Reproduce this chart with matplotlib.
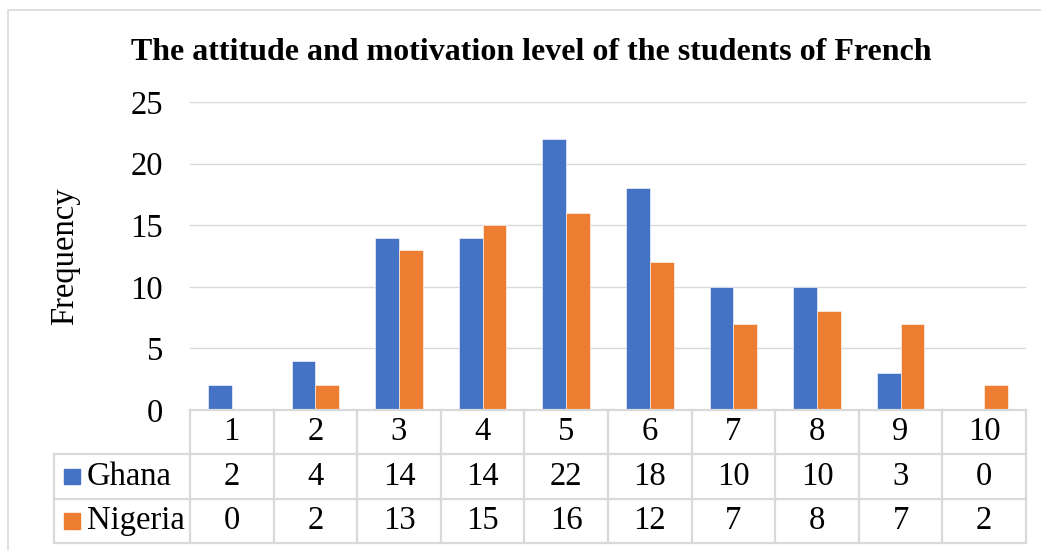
import matplotlib
matplotlib.use("Agg")
import matplotlib.pyplot as plt
from matplotlib.patches import Rectangle
import numpy as np

levels = ["1", "2", "3", "4", "5", "6", "7", "8", "9", "10"]
ghana = [2, 4, 14, 14, 22, 18, 10, 10, 3, 0]
nigeria = [0, 2, 13, 15, 16, 12, 7, 8, 7, 2]
series = ["Ghana", "Nigeria"]
colors = ["#4472C4", "#ED7D31"]
title = "The attitude and motivation level of the students of French"

plt.rcParams["font.family"] = ["Liberation Serif", "DejaVu Serif"]
grid_c = "#d9d9d9"
fs = 23.5

W, H = 1041, 550
fig = plt.figure(figsize=(W / 100, H / 100), dpi=100)

def fx(px):
    return px / W

def fy(py):
    return 1 - py / H

# chart area border
fig.add_artist(Rectangle((fx(8), -0.1), 1.2, fy(10) + 0.1, transform=fig.transFigure,
                         fill=False, edgecolor=grid_c, lw=1.2))

# bar chart
ax = fig.add_axes([fx(190), fy(410), fx(1026) - fx(190), fy(102) - fy(410)])
x = np.arange(len(levels))
bw = 1 / 3.5
ax.bar(x - bw / 2, ghana, bw, color=colors[0], edgecolor="white", lw=0.4, zorder=3)
ax.bar(x + bw / 2, nigeria, bw, color=colors[1], edgecolor="white", lw=0.4, zorder=3)
ax.set_xlim(-0.5, len(levels) - 0.5)
ax.set_ylim(0, 25)
ax.set_yticks(range(0, 26, 5))
ax.yaxis.grid(True, color=grid_c, lw=1.0, zorder=0)
ax.set_xticks([])
ax.tick_params(axis="y", length=0, pad=19.5, labelsize=fs)
for s in ax.spines.values():
    s.set_visible(False)

fig.text(fx(65), fy(256), "Frequency", rotation=90, ha="center", va="center", fontsize=fs)
fig.text(fx(531), fy(60), title, ha="center", va="baseline", fontsize=23, fontweight="bold")

# data table below the bars
xl = -0.5 - (190 - 54) / 83.6
tax = fig.add_axes([fx(54), fy(543), fx(1026) - fx(54), fy(410) - fy(543)])
tax.set_xlim(xl, len(levels) - 0.5)
tax.set_ylim(0, 3)
tax.axis("off")
lk = dict(color=grid_c, lw=1.6, clip_on=False, solid_capstyle="projecting")
tax.plot([-0.5, len(levels) - 0.5], [3, 3], **lk)
for yy in [0, 1, 2]:
    tax.plot([xl, len(levels) - 0.5], [yy, yy], **lk)
for k in range(len(levels) + 1):
    tax.plot([k - 0.5, k - 0.5], [0, 3], **lk)
tax.plot([xl, xl], [0, 2], **lk)

for i, lab in enumerate(levels):
    tax.text(i, 2.5, lab, ha="center", va="center", fontsize=fs)
for r, (name, vals, c) in enumerate(zip(series, [ghana, nigeria], colors)):
    yy = 1.5 - r
    for i, v in enumerate(vals):
        tax.text(i, yy, str(v), ha="center", va="center", fontsize=fs)
    px0 = xl + (64 - 54) / 83.6
    sq = 16 / 83.6
    tax.add_patch(Rectangle((px0, yy - 0.18), sq, 0.36, color=c, clip_on=False))
    tax.text(xl + (87 - 54) / 83.6, yy, name, ha="left", va="center", fontsize=fs)

fig.savefig("out.png", dpi=100)
